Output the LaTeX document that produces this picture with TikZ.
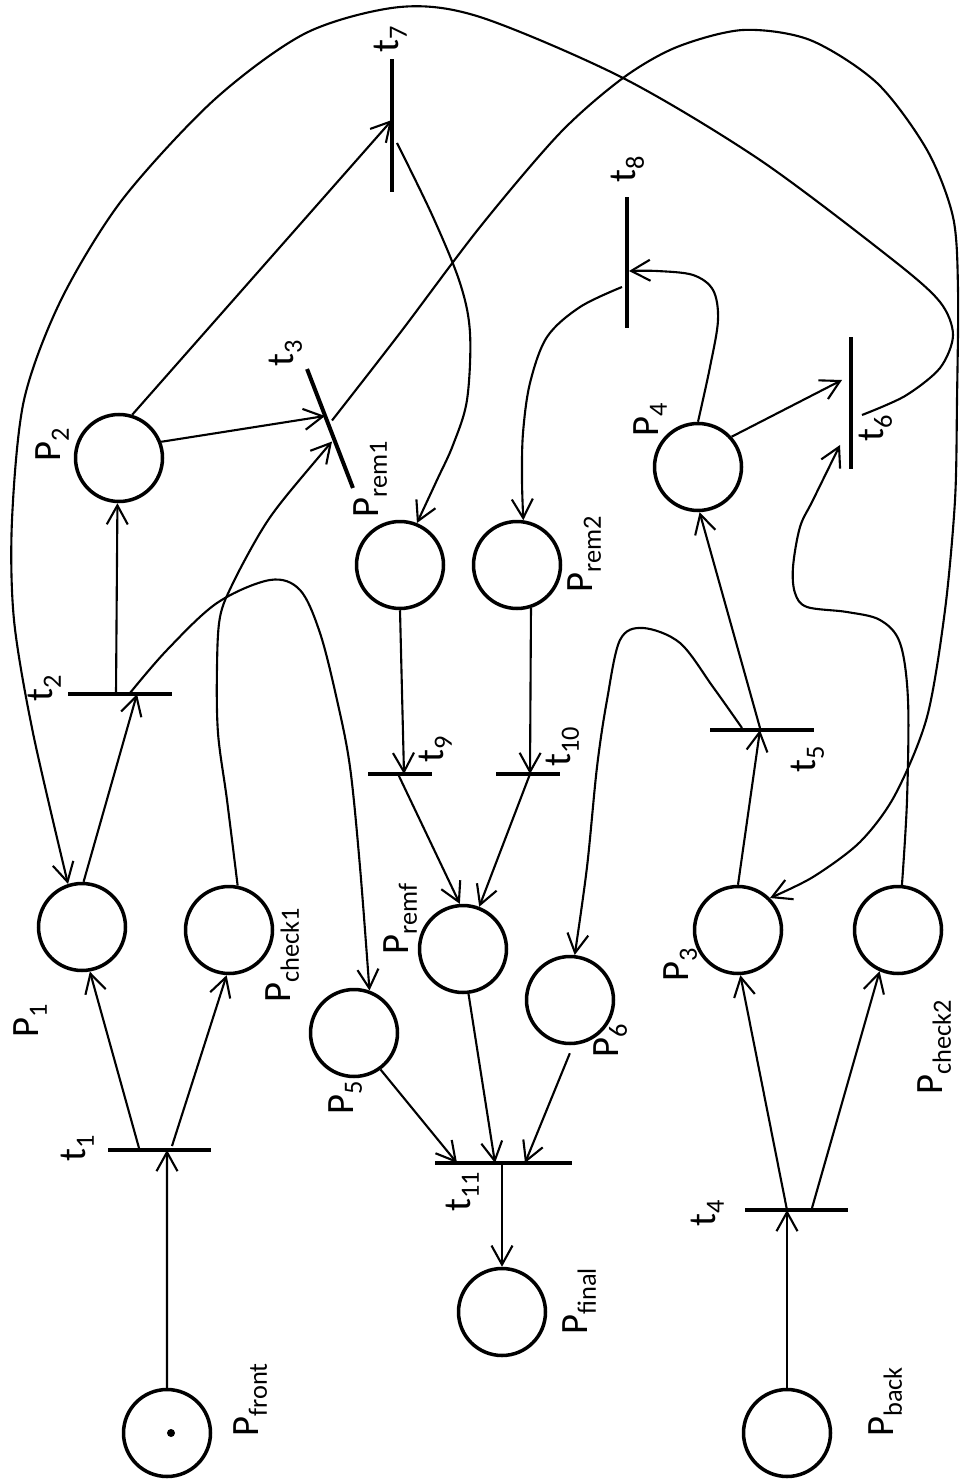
\documentclass[tikz,border=0pt]{standalone}
\usepackage{fontspec}
\setmainfont{Carlito}
\usetikzlibrary{arrows.meta,calc}
\newcommand\sbs[1]{\raisebox{-0.23em}{\fontsize{15pt}{15pt}\selectfont #1}}
\begin{document}
\begin{tikzpicture}[x=0.02cm,y=-0.02cm,
 place/.style={circle,draw,line width=2pt,minimum size=1.74cm,inner sep=0pt},
 hbar/.style={rectangle,fill=black,inner sep=0pt,minimum height=0.08cm,minimum width=#1},
 vbar/.style={rectangle,fill=black,inner sep=0pt,minimum width=0.08cm,minimum height=#1},
 pnarrow/.style={line width=1.2pt,-{Straight Barb[length=0.38cm,width=0.42cm]}},
 lab/.style={rotate=90,anchor=base west,inner sep=0pt,font=\fontsize{22pt}{22pt}\selectfont}]
\useasboundingbox (0,0) rectangle (959,1479);

% places
\node[place] (pfront) at (167,1433) {};
\node[place] (p1) at (82,927) {};
\node[place] (pcheck1) at (229,930) {};
\node[place] (p2) at (119,458) {};
\node[place] (p5) at (354,1033) {};
\node[place] (premf) at (463,949) {};
\node[place] (p6) at (570,1000) {};
\node[place] (pfinal) at (502,1312) {};
\node[place] (prem1) at (400,565) {};
\node[place] (prem2) at (517,565) {};
\node[place] (p4) at (698,467) {};
\node[place] (p3) at (738,930) {};
\node[place] (pcheck2) at (898,930) {};
\node[place] (pback) at (787,1433) {};
\fill ($(pfront)+(4,0)$) circle (4);

% transitions
\node[hbar=2.06cm] (t1) at (159.5,1150) {};
\node[hbar=2.08cm] (t2) at (120,694) {};
\node[vbar=2.55cm,rotate=21.1] (t3) at (330,428.5) {};
\node[vbar=2.66cm] (t7) at (392,125.5) {};
\node[vbar=2.62cm] (t8) at (627,262.5) {};
\node[vbar=2.64cm] (t6) at (851,403) {};
\node[hbar=1.28cm] (t9) at (400,774) {};
\node[hbar=1.28cm] (t10) at (528,774) {};
\node[hbar=2.08cm] (t5) at (762,730) {};
\node[hbar=2.74cm] (t11) at (503.5,1163) {};
\node[hbar=2.06cm] (t4) at (796.5,1210) {};

% labels
\node[lab] (lpfront) at (258,1437) {P\sbs{front}};
\node[lab] (lp1) at (38,1038) {P\sbs{1}};
\node[lab] (lt1) at (85,1162) {t\sbs{1}};
\node[lab] (lp5) at (353,1115) {P\sbs{5}};
\node[lab] (lt11) at (470,1212) {t\sbs{11}};
\node[lab] (lp6) at (618,1058) {P\sbs{6}};
\node[lab] (lpfinal) at (587,1335) {P\sbs{final}};
\node[lab] (lt4) at (715,1227) {t\sbs{4}};
\node[lab] (lpback) at (893,1437) {P\sbs{back}};
\node[lab] (lpcheck2) at (942,1095) {P\sbs{check2}};
\node[lab] (lt2) at (52,702) {t\sbs{2}};
\node[lab] (lpcheck1) at (290,1003) {P\sbs{check1}};
\node[lab] (lpremf) at (408,955) {P\sbs{remf}};
\node[lab] (lt9) at (443,763) {t\sbs{9}};
\node[lab] (lprem1) at (378,518) {P\sbs{rem1}};
\node[lab] (lprem2) at (592,593) {P\sbs{rem2}};
\node[lab] (lt10) at (570,767) {t\sbs{10}};
\node[lab] (lt5) at (815,773) {t\sbs{5}};
\node[lab] (lp3) at (688,982) {P\sbs{3}};
\node[lab] (lt7) at (398,53) {t\sbs{7}};
\node[lab] (lt3) at (293,367) {t\sbs{3}};
\node[lab] (lp2) at (60,462) {P\sbs{2}};
\node[lab] (lt8) at (635,183) {t\sbs{8}};
\node[lab] (lp4) at (658,437) {P\sbs{4}};
\node[lab] (lt6) at (883,442) {t\sbs{6}};

% helper coordinates on bars
\coordinate (c6) at ($(t6)+(11,12)$);
\coordinate (c3) at ($(t3)+(2,-8)$);
\coordinate (ct3b) at ($(t3)+(2,13)$);
\coordinate (ct3a) at ($(t3)+(-5,-12.5)$);
\coordinate (c7) at ($(t7)+(5,17.5)$);
\coordinate (ct7) at ($(t7)+(0,-5.5)$);
\coordinate (c2) at ($(t2)+(10,-1)$);
\coordinate (c5) at ($(t5)+(-20,-2)$);
\coordinate (ct6b) at ($(t6)+(-11,42)$);
\coordinate (ct6a) at ($(t6)+(-9,-23)$);
\coordinate (ct8) at ($(t8)+(2,8.5)$);
\coordinate (c8) at ($(t8)+(-5,24.5)$);

% straight arcs
\draw[pnarrow] (pfront.north) -- ($(t1)+(7.5,0)$);
\draw[pnarrow] ($(t1)+(-20.5,-2)$) -- (p1.-80);
\draw[pnarrow] ($(t1)+(12.5,-4)$) -- (pcheck1.-93);
\draw[pnarrow] (p1.88) -- ($(t2)+(17,0)$);
\draw[pnarrow] ($(t2)+(-4,0)$) -- (p2.-92);
\draw[pnarrow] (p2.73) -- (ct7);
\draw[pnarrow] (p2.21) -- (ct3a);
\draw[pnarrow] (prem1.-90) -- ($(t9)+(4,0)$);
\draw[pnarrow] ($(t9)+(-2,0)$) -- (premf.94);
\draw[pnarrow] (prem2.-72) -- ($(t10)+(2,0)$);
\draw[pnarrow] ($(t10)+(2,0)$) -- (premf.69);
\draw[pnarrow] (premf.-83) -- ($(t11)+(-8.5,0)$);
\draw[pnarrow] (p5.-54) -- ($(t11)+(-46.5,0)$);
\draw[pnarrow,shorten <=5pt] (p6.-86) -- ($(t11)+(21.5,0)$);
\draw[pnarrow] ($(t11)+(-1.5,0)$) -- (pfinal.north);
\draw[pnarrow] (pback.north) -- ($(t4)+(-9.5,0)$);
\draw[pnarrow] ($(t4)+(-9.5,0)$) -- (p3.-87);
\draw[pnarrow] ($(t4)+(15.5,-2)$) -- (pcheck2.-114);
\draw[pnarrow] (p3.90) -- ($(t5)+(-2,0)$);
\draw[pnarrow] ($(t5)+(-2,-2)$) -- (p4.-88);
\draw[pnarrow] (p4.42) -- (ct6a);

% curved arcs
\draw[pnarrow] plot[smooth,tension=0.5] coordinates {(c6) (905,396) (940,368) (953,335) (940,302) (893,260) (760,160) (623,78) (480,17) (400,7) (306,33) (214,100) (122,200) (61,300) (24,400) (12,520) (14,620) (33,733) (p1.108)};
\draw[pnarrow] plot[smooth,tension=0.5] coordinates {(c3) (400,333) (480,227) (560,133) (623,78) (677,47) (743,30) (810,40) (877,83) (927,150) (953,217) (958,290) (957,400) (955,500) (945,610) (927,717) (895,795) (860,842) (813,877) (p3.45)};
\draw[pnarrow] plot[smooth,tension=0.55] coordinates {(pcheck1.79) (227,800) (218,733) (217,667) (220,617) (233,583) (260,533) (283,500) (ct3b)};
\draw[pnarrow] plot[smooth,tension=0.55] coordinates {(c7) (433,217) (460,283) (470,333) (467,400) (453,445) (437,480) (prem1.68)};
\draw[pnarrow] plot[smooth,tension=0.55] coordinates {(c2) (167,650) (217,603) (270,580) (300,590) (320,633) (337,700) (350,767) (360,867) (p5.70)};
\draw[pnarrow] plot[smooth,tension=0.55] coordinates {(c5) (713,687) (680,643) (643,628) (620,640) (607,700) (597,767) (587,867) (p6.84)};
\draw[pnarrow] plot[smooth,tension=0.55] coordinates {(pcheck2.85) (907,800) (908,700) (900,643) (880,620) (847,612) (807,607) (795,593) (793,567) (800,527) (813,500) (ct6b)};
\draw[pnarrow] plot[smooth,tension=0.55] coordinates {(p4.90) (710,367) (718,320) (713,290) (693,275) (657,271) (ct8)};
\draw[pnarrow] plot[smooth,tension=0.55] coordinates {(c8) (580,307) (547,337) (530,383) (523,433) (522,480) (prem2.82)};
\end{tikzpicture}
\end{document}
